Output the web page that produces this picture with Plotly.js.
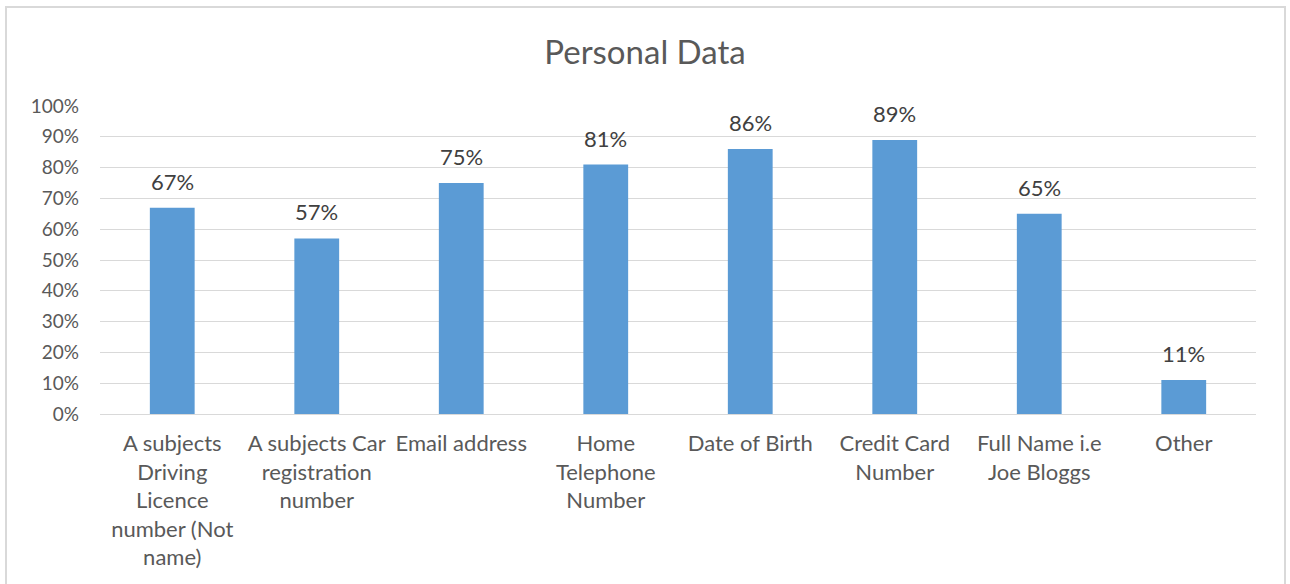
<!DOCTYPE html>
<html>
<head>
<meta charset="utf-8">
<script src="https://cdn.plot.ly/plotly-3.0.1.min.js"></script>
<style>
  html, body { margin: 0; padding: 0; background: #fff; }
  #wrap { position: relative; width: 1290px; height: 584px; }
  #chart { width: 1290px; height: 584px; }
  #frame { position: absolute; left: 5px; top: 6px; width: 1281px; height: 600px;
           border: 2px solid #d9d9d9; pointer-events: none; box-sizing: border-box; }
</style>
</head>
<body>
<div id="wrap">
  <div id="chart"></div>
  <div id="frame"></div>
</div>
<script>
const categories = [
  "A subjects<br>Driving<br>Licence<br>number (Not<br>name)",
  "A subjects Car<br>registration<br>number",
  "Email address",
  "Home<br>Telephone<br>Number",
  "Date of Birth",
  "Credit Card<br>Number",
  "Full Name i.e<br>Joe Bloggs",
  "Other"
];
const values = [0.67, 0.57, 0.75, 0.81, 0.86, 0.89, 0.65, 0.11];
const tickVals = [0, 0.1, 0.2, 0.3, 0.4, 0.5, 0.6, 0.7, 0.8, 0.9, 1.0];
const tickText = ["0%", "10%", "20%", "30%", "40%", "50%", "60%", "70%", "80%", "90%", "100%"];

const FONT = "Lato, 'Open Sans', sans-serif";

const trace = {
  type: "bar",
  x: categories,
  y: values,
  marker: { color: "#5b9bd5" },
  width: 0.31,
  hoverinfo: "none"
};

const annotations = categories.map((c, i) => ({
  x: c, y: values[i], xref: "x", yref: "y",
  text: Math.round(values[i] * 100) + "%",
  showarrow: false, yanchor: "bottom", yshift: 11,
  font: { family: FONT, size: 22, color: "#404040" }
}));

const layout = {
  width: 1290, height: 584,
  margin: { l: 100, r: 34, t: 106, b: 170 },
  paper_bgcolor: "#ffffff", plot_bgcolor: "#ffffff",
  title: {
    text: "Personal Data",
    font: { family: FONT, size: 33, color: "#595959" },
    x: 0.5, xref: "container", xanchor: "center",
    y: 1 - 52 / 584, yref: "container", yanchor: "middle"
  },
  showlegend: false,
  xaxis: {
    type: "category",
    showgrid: false, zeroline: false, showline: false,
    ticks: "",
    ticklabelstandoff: 14,
    tickfont: { family: FONT, size: 22, color: "#595959" },
    tickangle: 0, automargin: false
  },
  yaxis: {
    range: [0, 1.0],
    tickvals: tickVals, ticktext: tickText,
    showgrid: true, gridcolor: "#d9d9d9", gridwidth: 1,
    zeroline: true, zerolinecolor: "#d9d9d9", zerolinewidth: 1,
    showline: false, ticks: "", ticklen: 0,
    ticklabelstandoff: 20,
    tickfont: { family: FONT, size: 19, color: "#595959" },
    automargin: false
  },
  annotations: annotations
};

Plotly.newPlot("chart", [trace], layout, { displayModeBar: false, staticPlot: true });
</script>
</body>
</html>
